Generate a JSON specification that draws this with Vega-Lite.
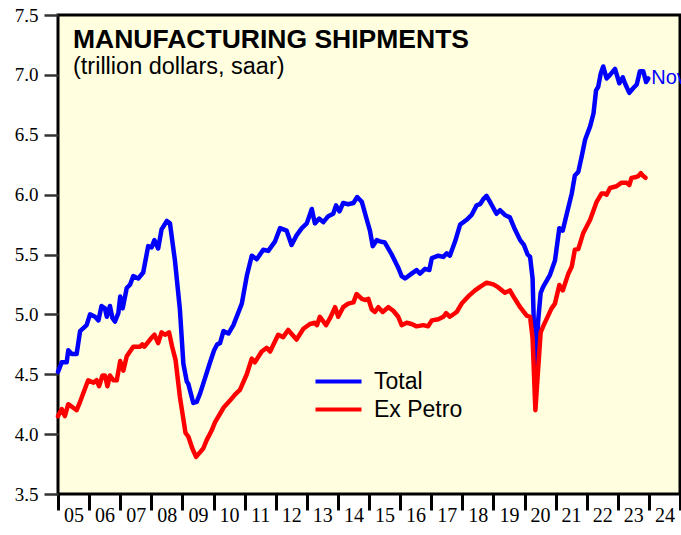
{
  "$schema": "https://vega.github.io/schema/vega-lite/v6.json",
  "autosize": {"type": "none"},
  "padding": {"left": 58, "top": 15, "right": 1, "bottom": 41},
  "width": 622,
  "height": 479,
  "background": "white",
  "title": {
    "text": "MANUFACTURING SHIPMENTS",
    "subtitle": "(trillion dollars, saar)",
    "anchor": "start",
    "frame": "group",
    "orient": "top",
    "baseline": "top",
    "offset": 0,
    "dx": 15,
    "dy": 72,
    "font": "Liberation Sans",
    "fontSize": 26.5,
    "fontWeight": "bold",
    "color": "black",
    "subtitleFont": "Liberation Sans",
    "subtitleFontSize": 23.5,
    "subtitleColor": "black",
    "subtitlePadding": 1
  },
  "config": {
    "view": {"fill": "#FFFFE0", "stroke": "black", "strokeWidth": 3},
    "axis": {"grid": false, "domain": false}
  },
  "datasets": {
    "ship": [
      {"d":2005.00,"s":"Total","v":4.52},{"d":2005.12,"s":"Total","v":4.60},{"d":2005.28,"s":"Total","v":4.60},{"d":2005.33,"s":"Total","v":4.70},{"d":2005.44,"s":"Total","v":4.67},{"d":2005.60,"s":"Total","v":4.67},{"d":2005.71,"s":"Total","v":4.86},{"d":2005.92,"s":"Total","v":4.91},
      {"d":2006.03,"s":"Total","v":5.00},{"d":2006.19,"s":"Total","v":4.98},{"d":2006.30,"s":"Total","v":4.95},{"d":2006.40,"s":"Total","v":5.07},{"d":2006.51,"s":"Total","v":5.05},{"d":2006.57,"s":"Total","v":4.98},{"d":2006.67,"s":"Total","v":5.07},{"d":2006.75,"s":"Total","v":4.97},{"d":2006.83,"s":"Total","v":4.94},{"d":2006.94,"s":"Total","v":5.01},
      {"d":2007.00,"s":"Total","v":5.15},{"d":2007.08,"s":"Total","v":5.05},{"d":2007.21,"s":"Total","v":5.22},{"d":2007.32,"s":"Total","v":5.25},{"d":2007.42,"s":"Total","v":5.32},{"d":2007.58,"s":"Total","v":5.30},{"d":2007.74,"s":"Total","v":5.35},{"d":2007.90,"s":"Total","v":5.57},
      {"d":2008.01,"s":"Total","v":5.56},{"d":2008.10,"s":"Total","v":5.62},{"d":2008.22,"s":"Total","v":5.55},{"d":2008.33,"s":"Total","v":5.71},{"d":2008.50,"s":"Total","v":5.78},{"d":2008.60,"s":"Total","v":5.76},{"d":2008.76,"s":"Total","v":5.45},{"d":2008.92,"s":"Total","v":5.04},
      {"d":2009.03,"s":"Total","v":4.59},{"d":2009.14,"s":"Total","v":4.44},{"d":2009.19,"s":"Total","v":4.42},{"d":2009.35,"s":"Total","v":4.26},{"d":2009.46,"s":"Total","v":4.27},{"d":2009.57,"s":"Total","v":4.34},{"d":2009.73,"s":"Total","v":4.47},{"d":2009.89,"s":"Total","v":4.60},
      {"d":2010.02,"s":"Total","v":4.70},{"d":2010.12,"s":"Total","v":4.75},{"d":2010.21,"s":"Total","v":4.76},{"d":2010.32,"s":"Total","v":4.86},{"d":2010.48,"s":"Total","v":4.84},{"d":2010.64,"s":"Total","v":4.91},{"d":2010.91,"s":"Total","v":5.09},
      {"d":2011.07,"s":"Total","v":5.32},{"d":2011.23,"s":"Total","v":5.49},{"d":2011.39,"s":"Total","v":5.46},{"d":2011.60,"s":"Total","v":5.54},{"d":2011.76,"s":"Total","v":5.53},{"d":2011.98,"s":"Total","v":5.61},
      {"d":2012.14,"s":"Total","v":5.72},{"d":2012.35,"s":"Total","v":5.70},{"d":2012.51,"s":"Total","v":5.58},{"d":2012.67,"s":"Total","v":5.66},{"d":2012.84,"s":"Total","v":5.72},
      {"d":2013.00,"s":"Total","v":5.76},{"d":2013.16,"s":"Total","v":5.88},{"d":2013.26,"s":"Total","v":5.76},{"d":2013.40,"s":"Total","v":5.80},{"d":2013.53,"s":"Total","v":5.77},{"d":2013.69,"s":"Total","v":5.82},{"d":2013.85,"s":"Total","v":5.84},{"d":2013.94,"s":"Total","v":5.91},
      {"d":2014.05,"s":"Total","v":5.86},{"d":2014.17,"s":"Total","v":5.93},{"d":2014.33,"s":"Total","v":5.92},{"d":2014.50,"s":"Total","v":5.93},{"d":2014.62,"s":"Total","v":5.98},{"d":2014.77,"s":"Total","v":5.94},{"d":2014.93,"s":"Total","v":5.79},
      {"d":2015.03,"s":"Total","v":5.70},{"d":2015.12,"s":"Total","v":5.57},{"d":2015.25,"s":"Total","v":5.62},{"d":2015.35,"s":"Total","v":5.61},{"d":2015.51,"s":"Total","v":5.60},{"d":2015.73,"s":"Total","v":5.50},{"d":2015.94,"s":"Total","v":5.39},
      {"d":2016.05,"s":"Total","v":5.32},{"d":2016.16,"s":"Total","v":5.30},{"d":2016.37,"s":"Total","v":5.34},{"d":2016.53,"s":"Total","v":5.37},{"d":2016.64,"s":"Total","v":5.34},{"d":2016.80,"s":"Total","v":5.38},{"d":2016.94,"s":"Total","v":5.37},
      {"d":2017.02,"s":"Total","v":5.47},{"d":2017.23,"s":"Total","v":5.49},{"d":2017.39,"s":"Total","v":5.48},{"d":2017.50,"s":"Total","v":5.51},{"d":2017.60,"s":"Total","v":5.49},{"d":2017.77,"s":"Total","v":5.61},{"d":2017.93,"s":"Total","v":5.75},
      {"d":2018.14,"s":"Total","v":5.79},{"d":2018.30,"s":"Total","v":5.83},{"d":2018.46,"s":"Total","v":5.91},{"d":2018.57,"s":"Total","v":5.92},{"d":2018.67,"s":"Total","v":5.96},{"d":2018.78,"s":"Total","v":5.99},{"d":2018.89,"s":"Total","v":5.94},
      {"d":2019.10,"s":"Total","v":5.84},{"d":2019.21,"s":"Total","v":5.87},{"d":2019.37,"s":"Total","v":5.83},{"d":2019.53,"s":"Total","v":5.81},{"d":2019.69,"s":"Total","v":5.71},{"d":2019.86,"s":"Total","v":5.62},{"d":2019.98,"s":"Total","v":5.58},
      {"d":2020.10,"s":"Total","v":5.50},{"d":2020.18,"s":"Total","v":5.48},{"d":2020.26,"s":"Total","v":5.30},{"d":2020.35,"s":"Total","v":4.45},{"d":2020.44,"s":"Total","v":4.95},{"d":2020.52,"s":"Total","v":5.18},{"d":2020.60,"s":"Total","v":5.23},{"d":2020.82,"s":"Total","v":5.33},{"d":2020.98,"s":"Total","v":5.45},
      {"d":2021.12,"s":"Total","v":5.72},{"d":2021.23,"s":"Total","v":5.70},{"d":2021.36,"s":"Total","v":5.84},{"d":2021.52,"s":"Total","v":6.01},{"d":2021.62,"s":"Total","v":6.16},{"d":2021.73,"s":"Total","v":6.19},{"d":2021.84,"s":"Total","v":6.32},{"d":2021.95,"s":"Total","v":6.46},
      {"d":2022.11,"s":"Total","v":6.57},{"d":2022.22,"s":"Total","v":6.68},{"d":2022.30,"s":"Total","v":6.87},{"d":2022.37,"s":"Total","v":6.90},{"d":2022.45,"s":"Total","v":7.01},{"d":2022.53,"s":"Total","v":7.07},{"d":2022.64,"s":"Total","v":6.97},{"d":2022.75,"s":"Total","v":7.00},{"d":2022.91,"s":"Total","v":7.05},
      {"d":2023.05,"s":"Total","v":6.93},{"d":2023.16,"s":"Total","v":6.98},{"d":2023.23,"s":"Total","v":6.93},{"d":2023.37,"s":"Total","v":6.85},{"d":2023.50,"s":"Total","v":6.89},{"d":2023.61,"s":"Total","v":6.92},{"d":2023.71,"s":"Total","v":7.03},{"d":2023.82,"s":"Total","v":7.03},{"d":2023.91,"s":"Total","v":6.94},{"d":2023.98,"s":"Total","v":6.97},

      {"d":2005.00,"s":"Ex Petro","v":4.15},{"d":2005.12,"s":"Ex Petro","v":4.21},{"d":2005.22,"s":"Ex Petro","v":4.15},{"d":2005.33,"s":"Ex Petro","v":4.25},{"d":2005.49,"s":"Ex Petro","v":4.22},{"d":2005.60,"s":"Ex Petro","v":4.20},{"d":2005.71,"s":"Ex Petro","v":4.27},{"d":2005.97,"s":"Ex Petro","v":4.45},
      {"d":2006.14,"s":"Ex Petro","v":4.43},{"d":2006.24,"s":"Ex Petro","v":4.45},{"d":2006.32,"s":"Ex Petro","v":4.40},{"d":2006.43,"s":"Ex Petro","v":4.49},{"d":2006.51,"s":"Ex Petro","v":4.49},{"d":2006.59,"s":"Ex Petro","v":4.40},{"d":2006.67,"s":"Ex Petro","v":4.49},{"d":2006.78,"s":"Ex Petro","v":4.45},{"d":2006.89,"s":"Ex Petro","v":4.45},
      {"d":2007.00,"s":"Ex Petro","v":4.61},{"d":2007.10,"s":"Ex Petro","v":4.53},{"d":2007.21,"s":"Ex Petro","v":4.65},{"d":2007.42,"s":"Ex Petro","v":4.73},{"d":2007.64,"s":"Ex Petro","v":4.73},{"d":2007.71,"s":"Ex Petro","v":4.75},{"d":2007.78,"s":"Ex Petro","v":4.73},{"d":2007.96,"s":"Ex Petro","v":4.79},
      {"d":2008.10,"s":"Ex Petro","v":4.83},{"d":2008.22,"s":"Ex Petro","v":4.76},{"d":2008.33,"s":"Ex Petro","v":4.85},{"d":2008.44,"s":"Ex Petro","v":4.83},{"d":2008.57,"s":"Ex Petro","v":4.85},{"d":2008.67,"s":"Ex Petro","v":4.73},{"d":2008.78,"s":"Ex Petro","v":4.62},{"d":2008.92,"s":"Ex Petro","v":4.31},
      {"d":2009.10,"s":"Ex Petro","v":4.01},{"d":2009.19,"s":"Ex Petro","v":3.98},{"d":2009.32,"s":"Ex Petro","v":3.88},{"d":2009.44,"s":"Ex Petro","v":3.81},{"d":2009.57,"s":"Ex Petro","v":3.85},{"d":2009.67,"s":"Ex Petro","v":3.88},{"d":2009.78,"s":"Ex Petro","v":3.95},{"d":2009.94,"s":"Ex Petro","v":4.03},
      {"d":2010.05,"s":"Ex Petro","v":4.10},{"d":2010.21,"s":"Ex Petro","v":4.17},{"d":2010.32,"s":"Ex Petro","v":4.22},{"d":2010.53,"s":"Ex Petro","v":4.28},{"d":2010.69,"s":"Ex Petro","v":4.33},{"d":2010.85,"s":"Ex Petro","v":4.37},
      {"d":2011.07,"s":"Ex Petro","v":4.50},{"d":2011.23,"s":"Ex Petro","v":4.63},{"d":2011.33,"s":"Ex Petro","v":4.60},{"d":2011.55,"s":"Ex Petro","v":4.69},{"d":2011.71,"s":"Ex Petro","v":4.72},{"d":2011.82,"s":"Ex Petro","v":4.69},
      {"d":2012.08,"s":"Ex Petro","v":4.83},{"d":2012.24,"s":"Ex Petro","v":4.81},{"d":2012.40,"s":"Ex Petro","v":4.87},{"d":2012.67,"s":"Ex Petro","v":4.79},{"d":2012.89,"s":"Ex Petro","v":4.88},
      {"d":2013.10,"s":"Ex Petro","v":4.92},{"d":2013.26,"s":"Ex Petro","v":4.93},{"d":2013.33,"s":"Ex Petro","v":4.91},{"d":2013.42,"s":"Ex Petro","v":4.98},{"d":2013.62,"s":"Ex Petro","v":4.91},{"d":2013.75,"s":"Ex Petro","v":4.97},{"d":2013.91,"s":"Ex Petro","v":5.06},
      {"d":2014.01,"s":"Ex Petro","v":4.98},{"d":2014.17,"s":"Ex Petro","v":5.06},{"d":2014.33,"s":"Ex Petro","v":5.09},{"d":2014.50,"s":"Ex Petro","v":5.10},{"d":2014.60,"s":"Ex Petro","v":5.17},{"d":2014.77,"s":"Ex Petro","v":5.13},{"d":2014.87,"s":"Ex Petro","v":5.12},{"d":2014.98,"s":"Ex Petro","v":5.13},
      {"d":2015.09,"s":"Ex Petro","v":5.04},{"d":2015.19,"s":"Ex Petro","v":5.02},{"d":2015.30,"s":"Ex Petro","v":5.06},{"d":2015.44,"s":"Ex Petro","v":5.02},{"d":2015.62,"s":"Ex Petro","v":5.06},{"d":2015.78,"s":"Ex Petro","v":5.03},{"d":2015.94,"s":"Ex Petro","v":4.98},
      {"d":2016.05,"s":"Ex Petro","v":4.91},{"d":2016.21,"s":"Ex Petro","v":4.93},{"d":2016.37,"s":"Ex Petro","v":4.92},{"d":2016.53,"s":"Ex Petro","v":4.90},{"d":2016.75,"s":"Ex Petro","v":4.91},{"d":2016.90,"s":"Ex Petro","v":4.90},
      {"d":2017.02,"s":"Ex Petro","v":4.95},{"d":2017.23,"s":"Ex Petro","v":4.96},{"d":2017.39,"s":"Ex Petro","v":4.98},{"d":2017.48,"s":"Ex Petro","v":5.01},{"d":2017.60,"s":"Ex Petro","v":4.98},{"d":2017.82,"s":"Ex Petro","v":5.02},{"d":2017.98,"s":"Ex Petro","v":5.09},
      {"d":2018.19,"s":"Ex Petro","v":5.15},{"d":2018.41,"s":"Ex Petro","v":5.20},{"d":2018.57,"s":"Ex Petro","v":5.23},{"d":2018.78,"s":"Ex Petro","v":5.265},
      {"d":2019.00,"s":"Ex Petro","v":5.25},{"d":2019.16,"s":"Ex Petro","v":5.225},{"d":2019.37,"s":"Ex Petro","v":5.18},{"d":2019.53,"s":"Ex Petro","v":5.20},{"d":2019.69,"s":"Ex Petro","v":5.13},{"d":2019.86,"s":"Ex Petro","v":5.06},
      {"d":2020.07,"s":"Ex Petro","v":4.99},{"d":2020.18,"s":"Ex Petro","v":4.98},{"d":2020.26,"s":"Ex Petro","v":4.80},{"d":2020.35,"s":"Ex Petro","v":4.20},{"d":2020.44,"s":"Ex Petro","v":4.55},{"d":2020.52,"s":"Ex Petro","v":4.85},{"d":2020.60,"s":"Ex Petro","v":4.90},{"d":2020.87,"s":"Ex Petro","v":5.05},{"d":2020.98,"s":"Ex Petro","v":5.09},
      {"d":2021.12,"s":"Ex Petro","v":5.245},{"d":2021.23,"s":"Ex Petro","v":5.20},{"d":2021.41,"s":"Ex Petro","v":5.34},{"d":2021.52,"s":"Ex Petro","v":5.40},{"d":2021.62,"s":"Ex Petro","v":5.54},{"d":2021.73,"s":"Ex Petro","v":5.545},{"d":2021.89,"s":"Ex Petro","v":5.68},
      {"d":2022.11,"s":"Ex Petro","v":5.79},{"d":2022.32,"s":"Ex Petro","v":5.94},{"d":2022.48,"s":"Ex Petro","v":6.01},{"d":2022.56,"s":"Ex Petro","v":6.01},{"d":2022.64,"s":"Ex Petro","v":6.00},{"d":2022.75,"s":"Ex Petro","v":6.055},{"d":2022.96,"s":"Ex Petro","v":6.07},
      {"d":2023.12,"s":"Ex Petro","v":6.10},{"d":2023.28,"s":"Ex Petro","v":6.10},{"d":2023.37,"s":"Ex Petro","v":6.08},{"d":2023.44,"s":"Ex Petro","v":6.14},{"d":2023.55,"s":"Ex Petro","v":6.145},{"d":2023.66,"s":"Ex Petro","v":6.155},{"d":2023.74,"s":"Ex Petro","v":6.18},{"d":2023.82,"s":"Ex Petro","v":6.155},{"d":2023.89,"s":"Ex Petro","v":6.14}
    ]
  },
  "data": {"name": "ship"},
  "encoding": {
    "x": {
      "field": "d", "type": "quantitative",
      "scale": {"domain": [2005, 2025], "nice": false, "zero": false},
      "axis": {
        "title": null,
        "values": [2005,2006,2007,2008,2009,2010,2011,2012,2013,2014,2015,2016,2017,2018,2019,2020,2021,2022,2023,2024,2025],
        "labelExpr": "datum.value >= 2025 ? '' : (datum.value % 100 < 10 ? '0' + (datum.value % 100) : '' + (datum.value % 100))",
        "labelOffset": 15.5,
        "labelFlush": false,
        "labelOverlap": false,
        "labelBound": false,
        "labelFont": "Liberation Serif",
        "labelFontSize": 20,
        "labelColor": "black",
        "labelPadding": -5,
        "labelBaseline": "top",
        "tickSize": 16,
        "tickWidth": 3,
        "tickColor": "black"
      }
    },
    "y": {
      "field": "v", "type": "quantitative",
      "scale": {"domain": [3.5, 7.5], "nice": false, "zero": false},
      "axis": {
        "title": null,
        "values": [3.5,4.0,4.5,5.0,5.5,6.0,6.5,7.0,7.5],
        "format": ".1f",
        "labelFont": "Liberation Serif",
        "labelFontSize": 19,
        "labelColor": "black",
        "labelPadding": 6,
        "tickSize": 14,
        "tickWidth": 2.5,
        "tickColor": "#333333"
      }
    }
  },
  "layer": [
    {
      "mark": {"type": "line", "strokeWidth": 4.5, "strokeJoin": "round", "strokeCap": "round"},
      "encoding": {
        "color": {
          "field": "s", "type": "nominal",
          "scale": {"domain": ["Total", "Ex Petro"], "range": ["#0000FF", "#FF0000"]},
          "legend": {
            "title": null,
            "orient": "none",
            "legendX": 269,
            "legendY": 355,
            "padding": 0,
            "symbolType": "M-2.5,0H2.5",
            "symbolSize": 339,
            "symbolStrokeWidth": 4,
            "labelFont": "Liberation Sans",
            "labelFontSize": 23,
            "labelColor": "black",
            "labelOffset": 24,
            "rowPadding": 4
          }
        }
      }
    },
    {
      "transform": [{"filter": "datum.s == 'Total' && datum.d > 2023.95"}],
      "mark": {"type": "text", "text": "Nov", "align": "left", "baseline": "middle", "dx": 3, "color": "#0000FF", "font": "Liberation Sans", "fontSize": 20}
    }
  ]
}
